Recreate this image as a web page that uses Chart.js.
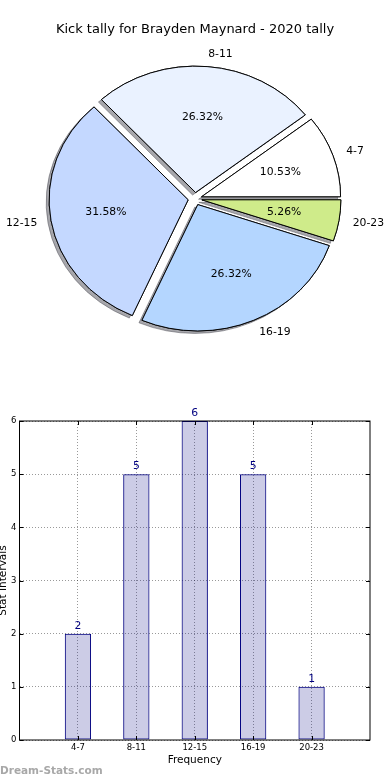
<!DOCTYPE html>
<html>
<head>
<meta charset="utf-8">
<title>Kick tally for Brayden Maynard - 2020 tally</title>
<script src="https://cdn.jsdelivr.net/npm/chart.js@4.4.1/dist/chart.umd.min.js"></script>
<style>
  html, body { margin: 0; padding: 0; background: #fff; }
  body { width: 390px; height: 780px; position: relative; overflow: hidden; }
  #pie-box { position: absolute; left: 0; top: 0; width: 390px; height: 390px; }
  #bar-box { position: absolute; left: -3px; top: 390px; width: 393px; height: 390px; }
  #watermark { position: absolute; left: 0; top: 764px; font: bold 10.5px 'DejaVu Sans', sans-serif; color: #a8a8a8; }
</style>
</head>
<body>
<div id="pie-box"><canvas id="chart-pie"></canvas></div>
<div id="bar-box"><canvas id="chart-bar"></canvas></div>
<div id="watermark">Dream-Stats.com</div>
<script>
// ------------------------------------------------------------
//  Daten
// ------------------------------------------------------------
const TITLE      = 'Kick tally for Brayden Maynard - 2020 tally';
const CATEGORIES = ['4-7', '8-11', '12-15', '16-19', '20-23'];
const COUNTS     = [2, 5, 6, 5, 1];
const PIE_COLORS = ['#ffffff', '#eaf2ff', '#c4d8ff', '#b4d6ff', '#cfeb8a'];

// Stil
const FONT    = "'DejaVu Sans', sans-serif";
const NAVY    = '#000080';
const GRID    = 'rgba(0,0,0,0.4)';
const EXPLODE = 0.05;   // Anteil des Radius
const SQUASH  = 0.909;  // Torte ist oval (ry / rx)

Chart.defaults.font.family = FONT;
Chart.defaults.color = '#000';

// ------------------------------------------------------------
//  Torte: ausgerückte Stücke + Schatten + Beschriftung
// ------------------------------------------------------------
const pieExplode = {
  id: 'pieExplode',
  beforeDatasetsDraw(chart) {
    const ctx  = chart.ctx;
    const arcs = chart.getDatasetMeta(0).data;
    const { x: cx, y: cy, outerRadius: r } = arcs[0];

    const drawAll = () => arcs.forEach(arc => {
      const mid = (arc.startAngle + arc.endAngle) / 2;
      ctx.save();
      ctx.translate(Math.cos(mid) * EXPLODE * r, Math.sin(mid) * EXPLODE * r);
      arc.draw(ctx);
      ctx.restore();
    });

    ctx.save();
    // gespiegelt -> gegen den Uhrzeigersinn, gestaucht -> oval
    ctx.translate(cx, cy);
    ctx.scale(1, -SQUASH);
    ctx.translate(-cx, -cy);

    ctx.save();
    ctx.shadowColor = 'rgba(60,60,70,0.45)';
    ctx.shadowOffsetX = -3;
    ctx.shadowOffsetY = 2.5;
    drawAll();
    ctx.restore();

    drawAll();
    ctx.restore();
    return false;
  },
  afterDraw(chart) {
    const ctx  = chart.ctx;
    const arcs = chart.getDatasetMeta(0).data;
    const { x: cx, y: cy, outerRadius: r } = arcs[0];
    const total = COUNTS.reduce((a, b) => a + b, 0);

    ctx.save();
    ctx.font = `10.8px ${FONT}`;
    ctx.fillStyle = '#000';
    ctx.textBaseline = 'middle';
    arcs.forEach((arc, i) => {
      const mid = (arc.startAngle + arc.endAngle) / 2;
      const c = Math.cos(mid), s = Math.sin(mid);

      const ld = (1.1 + EXPLODE) * r;
      ctx.textAlign = c > 0 ? 'left' : 'right';
      ctx.fillText(CATEGORIES[i], cx + ld * c, cy - SQUASH * ld * s);

      const pd = (0.6 + EXPLODE) * r;
      ctx.textAlign = 'center';
      ctx.fillText((COUNTS[i] / total * 100).toFixed(2) + '%', cx + pd * c, cy - SQUASH * pd * s);
    });
    ctx.restore();
  }
};

new Chart(document.getElementById('chart-pie'), {
  type: 'pie',
  data: {
    labels: CATEGORIES,
    datasets: [{
      data: COUNTS,
      backgroundColor: PIE_COLORS,
      borderColor: '#000',
      borderWidth: 1
    }]
  },
  options: {
    responsive: true,
    maintainAspectRatio: false,
    animation: false,
    events: [],
    rotation: 90,
    radius: 139,
    layout: { padding: { bottom: 40 } },
    plugins: {
      legend: { display: false },
      tooltip: { enabled: false },
      title: {
        display: true,
        text: TITLE,
        color: '#000',
        font: { size: 13, weight: 'normal' },
        padding: { top: 22, bottom: 10 }
      }
    }
  },
  plugins: [pieExplode]
});

// ------------------------------------------------------------
//  Balken: Rahmen, Ticks nach innen, Werte über den Balken
// ------------------------------------------------------------
const frameBox = {
  id: 'frameBox',
  afterDraw(chart) {
    const { ctx, chartArea: a, scales } = chart;
    ctx.save();
    ctx.strokeStyle = '#000';
    ctx.lineWidth = 1;
    ctx.strokeRect(a.left, a.top, a.right - a.left, a.bottom - a.top);
    ctx.beginPath();
    scales.y.ticks.forEach(t => {
      const y = Math.round(scales.y.getPixelForValue(t.value)) + 0.5;
      ctx.moveTo(a.left, y);  ctx.lineTo(a.left + 4, y);
      ctx.moveTo(a.right, y); ctx.lineTo(a.right - 4, y);
    });
    scales.x.ticks.forEach(t => {
      const x = Math.round(scales.x.getPixelForValue(t.value)) + 0.5;
      ctx.moveTo(x, a.bottom); ctx.lineTo(x, a.bottom - 4);
      ctx.moveTo(x, a.top);    ctx.lineTo(x, a.top + 4);
    });
    ctx.stroke();
    ctx.restore();
  }
};

const barValues = {
  id: 'barValues',
  afterDatasetsDraw(chart) {
    const ctx = chart.ctx;
    ctx.save();
    ctx.font = `10.8px ${FONT}`;
    ctx.fillStyle = NAVY;
    ctx.textAlign = 'center';
    ctx.textBaseline = 'alphabetic';
    chart.getDatasetMeta(0).data.forEach((bar, i) => {
      ctx.fillText(String(COUNTS[i]), bar.x, bar.y - 5);
    });
    ctx.restore();
  }
};

new Chart(document.getElementById('chart-bar'), {
  type: 'bar',
  data: {
    datasets: [{
      data: COUNTS.map((v, i) => ({ x: i + 1, y: v })),
      backgroundColor: 'rgba(0,0,128,0.2)',
      borderColor: NAVY,
      borderWidth: 1,
      borderSkipped: false,
      categoryPercentage: 1,
      barPercentage: 0.45
    }]
  },
  options: {
    responsive: true,
    maintainAspectRatio: false,
    animation: false,
    events: [],
    layout: { padding: { top: 31, right: 20, left: 0, bottom: 0 } },
    plugins: {
      legend: { display: false },
      tooltip: { enabled: false }
    },
    scales: {
      x: {
        type: 'linear',
        min: 0,
        max: 6,
        offset: false,
        afterBuildTicks: s => { s.ticks = CATEGORIES.map((_, i) => ({ value: i + 1 })); },
        afterFit: s => { s.height = 40; },
        grid: { offset: false, drawTicks: false, color: GRID, lineWidth: 1, borderDash: [1, 2] },
        border: { display: false, dash: [1, 2] },
        ticks: {
          callback: v => CATEGORIES[v - 1],
          font: { size: 8.5 },
          color: '#000',
          padding: 3,
          maxRotation: 0,
          autoSkip: false
        },
        title: {
          display: true,
          text: 'Frequency',
          color: '#000',
          font: { size: 10.5 },
          padding: { top: 0, bottom: 13.7 }
        }
      },
      y: {
        min: 0,
        max: 6,
        afterFit: s => { s.width = 22.5; },
        grid: { drawTicks: false, color: GRID, lineWidth: 1, borderDash: [1, 2] },
        border: { display: false, dash: [1, 2] },
        ticks: { stepSize: 1, font: { size: 8.5 }, color: '#000', padding: 3 },
        title: {
          display: true,
          text: 'Stat Intervals',
          color: '#000',
          font: { size: 10.5 },
          padding: { top: 0, bottom: 0 }
        }
      }
    }
  },
  plugins: [frameBox, barValues]
});
</script>
</body>
</html>
